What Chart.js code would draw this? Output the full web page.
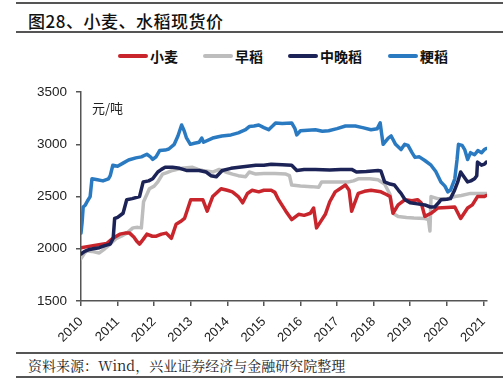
<!DOCTYPE html>
<html>
<head>
<meta charset="utf-8">
<script src="https://cdn.jsdelivr.net/npm/chart.js@4/dist/chart.umd.min.js"></script>
<style>
  html, body { margin:0; padding:0; background:#fff; }
  body { width:503px; height:379px; position:relative; overflow:hidden; font-family:"Noto Sans CJK SC", sans-serif; }
  .hline { position:absolute; left:16px; right:0; background:#555; }
  #title { position:absolute; left:28px; top:8px; font-size:17px; font-weight:500; color:#111; letter-spacing:0.5px; }
  #legend { position:absolute; top:47px; left:0; width:503px; height:18px; }
  .lg { position:absolute; top:0; height:18px; font-size:14px; font-weight:700; color:#111; line-height:18px; }
  .lg i { position:absolute; left:0; top:7px; width:30px; height:4px; border-radius:2px; }
  .lg span { position:absolute; left:32px; top:0; white-space:nowrap; }
  #unit { position:absolute; left:92px; top:98px; font-size:13px; color:#222; }
  #wrap { position:absolute; left:0; top:75px; width:503px; height:275px; }
  #src { position:absolute; left:28px; top:355px; font-size:14px; color:#222; font-family:"Noto Serif CJK SC","Liberation Serif","DejaVu Serif",serif; }
</style>
</head>
<body>
<div class="hline" style="top:2px;height:2px;"></div>
<div id="title">图28、小麦、水稻现货价</div>
<div class="hline" style="top:31px;height:2px;"></div>
<div id="legend"></div>
<div id="wrap"><canvas id="c"></canvas></div>
<div id="unit">元/吨</div>
<div class="hline" style="top:352px;height:1.5px;"></div>
<div id="src">资料来源：Wind，兴业证券经济与金融研究院整理</div>
<div class="hline" style="top:376px;height:1.5px;"></div>
<script>
// ---- data (decimal year, 元/吨) ----
const seriesNames = ['小麦', '早稻', '中晚稻', '粳稻'];
const yearTicks = [2010, 2011, 2012, 2013, 2014, 2015, 2016, 2017, 2018, 2019, 2020, 2021];

const wheatDates = [2010.0,2010.33,2010.7,2010.87,2011.06,2011.2,2011.33,2011.45,2011.52,2011.6,2011.7,2011.8,2011.95,2012.06,2012.2,2012.33,2012.47,2012.6,2012.72,2012.83,2013.0,2013.2,2013.33,2013.45,2013.6,2013.83,2014.0,2014.14,2014.3,2014.42,2014.55,2014.68,2014.86,2015.0,2015.2,2015.3,2015.4,2015.6,2015.76,2015.95,2016.1,2016.27,2016.36,2016.44,2016.55,2016.68,2016.8,2016.95,2017.1,2017.23,2017.33,2017.4,2017.58,2017.75,2017.93,2018.2,2018.35,2018.45,2018.53,2018.67,2018.86,2019.05,2019.2,2019.3,2019.4,2019.57,2019.75,2020.0,2020.22,2020.38,2020.57,2020.7,2020.84,2021.03,2021.08];
const wheatPrices = [2010,2030,2050,2100,2140,2150,2150,2110,2075,2045,2090,2140,2120,2120,2140,2150,2100,2235,2260,2290,2470,2470,2470,2360,2500,2575,2560,2545,2500,2440,2530,2560,2545,2560,2560,2540,2470,2360,2280,2330,2320,2340,2390,2200,2260,2330,2450,2545,2580,2610,2560,2360,2530,2550,2560,2545,2520,2500,2340,2420,2470,2460,2470,2440,2310,2340,2390,2395,2400,2290,2390,2420,2500,2500,2510];

const earlyDates = [2010.0,2010.08,2010.15,2010.3,2010.5,2010.65,2010.8,2010.97,2011.1,2011.25,2011.42,2011.55,2011.65,2011.71,2011.8,2011.87,2012.0,2012.1,2012.23,2012.35,2012.5,2012.75,2013.05,2013.2,2013.33,2013.6,2013.78,2014.0,2014.14,2014.3,2014.5,2014.6,2014.78,2015.0,2015.3,2015.6,2015.7,2015.76,2016.0,2016.3,2016.5,2016.58,2016.9,2017.3,2017.45,2017.58,2017.9,2018.12,2018.3,2018.45,2018.53,2018.67,2018.9,2019.1,2019.4,2019.5,2019.54,2019.57,2019.75,2020.03,2020.22,2020.4,2020.65,2020.85,2021.08];
const earlyPrices = [1905,1950,1980,1975,1960,2000,2045,2100,2120,2150,2200,2205,2200,2450,2520,2575,2600,2640,2715,2730,2750,2770,2780,2760,2750,2735,2760,2730,2715,2700,2690,2735,2715,2720,2720,2715,2700,2610,2600,2595,2590,2640,2640,2640,2650,2670,2670,2660,2620,2520,2340,2310,2300,2295,2290,2280,2170,2500,2480,2480,2500,2510,2530,2530,2530];

const lateDates = [2010.0,2010.1,2010.2,2010.33,2010.5,2010.65,2010.8,2010.88,2010.92,2011.0,2011.15,2011.25,2011.4,2011.6,2011.7,2011.85,2011.96,2012.1,2012.2,2012.3,2012.5,2012.7,2012.88,2013.05,2013.23,2013.42,2013.55,2013.7,2013.86,2014.1,2014.32,2014.55,2014.78,2015.0,2015.2,2015.5,2015.76,2015.9,2016.1,2016.41,2016.8,2017.1,2017.4,2017.53,2017.8,2018.12,2018.2,2018.3,2018.45,2018.57,2018.68,2018.75,2018.86,2019.0,2019.2,2019.4,2019.55,2019.67,2019.8,2019.84,2020.0,2020.1,2020.2,2020.3,2020.38,2020.45,2020.57,2020.66,2020.76,2020.82,2020.84,2020.95,2021.03,2021.08];
const latePrices = [1950,1975,1990,2000,2010,2030,2045,2100,2290,2300,2340,2470,2480,2500,2640,2650,2670,2735,2760,2780,2780,2770,2750,2750,2750,2735,2700,2690,2750,2770,2780,2790,2800,2800,2810,2805,2800,2750,2760,2760,2755,2760,2760,2735,2740,2750,2745,2640,2620,2610,2560,2530,2470,2440,2430,2420,2400,2400,2450,2470,2475,2480,2550,2640,2735,2700,2640,2650,2670,2700,2830,2800,2810,2830];

const japonicaDates = [2010.0,2010.03,2010.06,2010.12,2010.18,2010.25,2010.3,2010.45,2010.6,2010.75,2010.8,2010.87,2011.0,2011.15,2011.3,2011.5,2011.65,2011.8,2011.9,2011.96,2012.05,2012.15,2012.3,2012.4,2012.55,2012.65,2012.75,2012.82,2012.88,2012.99,2013.1,2013.23,2013.3,2013.35,2013.6,2013.85,2014.1,2014.3,2014.5,2014.6,2014.73,2014.86,2015.0,2015.13,2015.25,2015.32,2015.5,2015.76,2015.85,2015.9,2016.0,2016.2,2016.41,2016.6,2016.77,2017.0,2017.23,2017.5,2017.7,2017.93,2018.1,2018.18,2018.22,2018.26,2018.4,2018.48,2018.6,2018.75,2018.85,2018.94,2019.05,2019.13,2019.25,2019.4,2019.57,2019.7,2019.84,2019.95,2020.03,2020.1,2020.22,2020.28,2020.32,2020.42,2020.49,2020.57,2020.65,2020.76,2020.85,2020.95,2021.03,2021.08];
const japonicaPrices = [2150,2250,2400,2420,2460,2500,2670,2660,2650,2670,2700,2800,2790,2820,2850,2870,2880,2905,2880,2855,2880,2940,2945,2955,3000,3080,3185,3130,3065,3000,3010,3020,3060,3020,3060,3080,3090,3110,3140,3170,3175,3185,3160,3140,3180,3205,3200,3205,3150,3090,3130,3135,3140,3125,3130,3150,3175,3175,3160,3140,3150,3205,3100,3000,3060,3080,3000,2950,3000,2990,2920,2875,2880,2845,2800,2740,2640,2600,2545,2560,2670,2850,3000,2990,2950,2855,2920,2900,2940,2920,2950,2960];

const colors = ['#C8252C', '#BDBDBD', '#1C2356', '#2A7AC2'];
const legendX = [118, 203, 288, 388];

// HTML legend
const lg = document.getElementById('legend');
seriesNames.forEach((n, i) => {
  const d = document.createElement('div');
  d.className = 'lg';
  d.style.left = legendX[i] + 'px';
  d.innerHTML = '<i style="background:' + colors[i] + '"></i><span>' + n + '</span>';
  lg.appendChild(d);
});

function pts(xs, ys) { return xs.map((x, i) => ({ x: x, y: ys[i] })); }
const allDates = [wheatDates, earlyDates, lateDates, japonicaDates];
const allPrices = [wheatPrices, earlyPrices, latePrices, japonicaPrices];

const datasets = seriesNames.map((n, i) => ({
  label: n,
  data: pts(allDates[i], allPrices[i]),
  borderColor: colors[i],
  backgroundColor: colors[i],
  borderWidth: 3.5,
  pointRadius: 0,
  tension: 0,
  borderJoinStyle: 'round',
  borderCapStyle: 'round'
}));
datasets[0].order = 2; datasets[1].order = 3; datasets[2].order = 1; datasets[3].order = 0;

new Chart(document.getElementById('c'), {
  type: 'line',
  data: { datasets: datasets },
  options: {
    responsive: true,
    maintainAspectRatio: false,
    animation: false,
    layout: { padding: { top: 13, right: 16, left: 0, bottom: 0 } },
    plugins: { legend: { display: false }, tooltip: { enabled: false } },
    scales: {
      x: {
        type: 'linear',
        min: 2010, max: 2021.1,
        afterBuildTicks: (s) => { s.ticks = yearTicks.map(v => ({ value: v })); },
        afterFit: (s) => { s.height = 49; },
        ticks: {
          minRotation: 45, maxRotation: 45,
          color: '#222',
          font: { family: 'Liberation Sans', size: 13 },
          padding: 8,
          callback: (v) => String(v)
        },
        grid: { display: true, drawOnChartArea: false, drawTicks: true, tickLength: 5, color: '#555', lineWidth: 1.5 },
        border: { display: true, color: '#555', width: 1.5 }
      },
      y: {
        min: 1500, max: 3500,
        afterFit: (s) => { s.width = 81; },
        ticks: {
          stepSize: 500,
          color: '#222',
          font: { family: 'Liberation Sans', size: 13.5 },
          padding: 9,
          callback: (v) => String(v)
        },
        grid: { display: true, drawOnChartArea: false, drawTicks: true, tickLength: 5, color: '#555', lineWidth: 1.5 },
        border: { display: true, color: '#555', width: 1.5 }
      }
    }
  }
});
</script>
</body>
</html>
